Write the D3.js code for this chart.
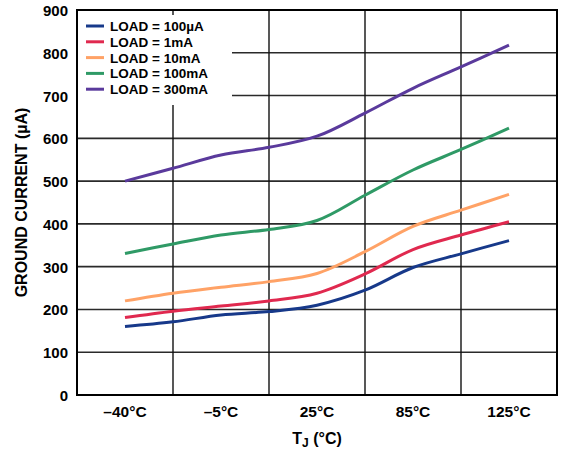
<!DOCTYPE html>
<html>
<head>
<meta charset="utf-8">
<script src="https://cdn.jsdelivr.net/npm/d3@7"></script>
<style>
  body { margin: 0; background: #fff; }
  text { font-family: "Liberation Sans", Arial, sans-serif; font-weight: bold; fill: #000; }
</style>
</head>
<body>
<div id="chart"></div>
<script>
// Temperature categories (x ticks)
var categories = ["\u201340\u00B0C", "\u20135\u00B0C", "25\u00B0C", "85\u00B0C", "125\u00B0C"];
// sample positions, in category index units (halfway points are the grid lines)
var xSteps = [0, 0.5, 1, 1.5, 2, 2.5, 3, 3.5, 4];

// ground current in uA
var load100uA = [160, 171, 187, 195, 210, 245, 298, 330, 361];
var load1mA   = [181, 196, 208, 220, 238, 283, 340, 374, 405];
var load10mA  = [220, 238, 252, 265, 284, 335, 394, 432, 469];
var load100mA = [331, 353, 374, 387, 408, 467, 526, 574, 624];
var load300mA = [500, 530, 561, 579, 605, 659, 717, 767, 818];

var seriesNames = ["LOAD = 100\u00B5A", "LOAD = 1mA", "LOAD = 10mA", "LOAD = 100mA", "LOAD = 300mA"];
var seriesColors = ["#17398a", "#e0294f", "#ffa266", "#2f9a66", "#5a3a9c"];
var yTicks = [0, 100, 200, 300, 400, 500, 600, 700, 800, 900];

var allSeries = [load100uA, load1mA, load10mA, load100mA, load300mA];

//SVG Size
var svgWidth = 579;
var svgHeight = 453;
var margin = {top: 10, right: 22, bottom: 58, left: 77};
var width = svgWidth - margin.left - margin.right;
var height = svgHeight - margin.top - margin.bottom;

var svg = d3.select("#chart")
  .append("svg")
  .attr("width", svgWidth)
  .attr("height", svgHeight);

var g = svg.append("g").attr("transform", `translate(${margin.left},${margin.top})`);

var x = d3.scaleLinear().domain([-0.5, categories.length - 0.5]).range([0, width]);
var y = d3.scaleLinear().domain([0, 900]).range([height, 0]);

// horizontal grid
g.selectAll(".hgrid")
  .data(yTicks.slice(1, -1))
  .enter()
  .append("line")
  .attr("x1", 0).attr("x2", width)
  .attr("y1", d => y(d)).attr("y2", d => y(d))
  .attr("stroke", "#2a2a2a")
  .attr("stroke-width", 1.6);

// vertical grid, between categories
g.selectAll(".vgrid")
  .data(d3.range(categories.length - 1))
  .enter()
  .append("line")
  .attr("x1", d => x(d + 0.5)).attr("x2", d => x(d + 0.5))
  .attr("y1", 0).attr("y2", height)
  .attr("stroke", "#111")
  .attr("stroke-width", 1.4);

// legend background hides grid behind it
var legend = g.append("g");
legend.append("rect")
  .attr("x", 1).attr("y", 5)
  .attr("width", 154).attr("height", 90)
  .attr("fill", "#fff");

// curves
var line = d3.line()
  .x((d, i) => x(xSteps[i]))
  .y(d => y(d))
  .curve(d3.curveCatmullRom.alpha(0.5));

g.selectAll(".series")
  .data(allSeries)
  .enter()
  .append("path")
  .attr("d", d => line(d))
  .attr("fill", "none")
  .attr("stroke", (d, i) => seriesColors[i])
  .attr("stroke-width", 3);

// legend entries
seriesNames.forEach(function(name, i) {
  var ly = 16 + i * 15.8;
  legend.append("line")
    .attr("x1", 9).attr("x2", 27)
    .attr("y1", ly).attr("y2", ly)
    .attr("stroke", seriesColors[i])
    .attr("stroke-width", 3);
  legend.append("text")
    .attr("x", 33).attr("y", ly + 5)
    .style("font-size", "13.5px")
    .text(name);
});

// plot frame
g.append("rect")
  .attr("width", width).attr("height", height)
  .attr("fill", "none")
  .attr("stroke", "#000")
  .attr("stroke-width", 2);

// y tick labels
g.selectAll(".ylab")
  .data(yTicks)
  .enter()
  .append("text")
  .attr("x", -9)
  .attr("y", d => y(d) + 6)
  .attr("text-anchor", "end")
  .style("font-size", "15px")
  .text(d => d);

// x tick labels
g.selectAll(".xlab")
  .data(categories)
  .enter()
  .append("text")
  .attr("x", (d, i) => x(i))
  .attr("y", height + 22)
  .attr("text-anchor", "middle")
  .style("font-size", "15.5px")
  .text(d => d);

// axis titles
var xt = svg.append("text")
  .attr("x", margin.left + width / 2)
  .attr("y", 444)
  .attr("text-anchor", "middle")
  .style("font-size", "16px");
xt.append("tspan").text("T");
xt.append("tspan").attr("dy", 3).style("font-size", "12px").text("J");
xt.append("tspan").attr("dy", -3).text(" (\u00B0C)");

svg.append("text")
  .attr("transform", `translate(27,${margin.top + height / 2}) rotate(-90)`)
  .attr("text-anchor", "middle")
  .style("font-size", "16px")
  .text("GROUND CURRENT (\u00B5A)");
</script>
</body>
</html>
